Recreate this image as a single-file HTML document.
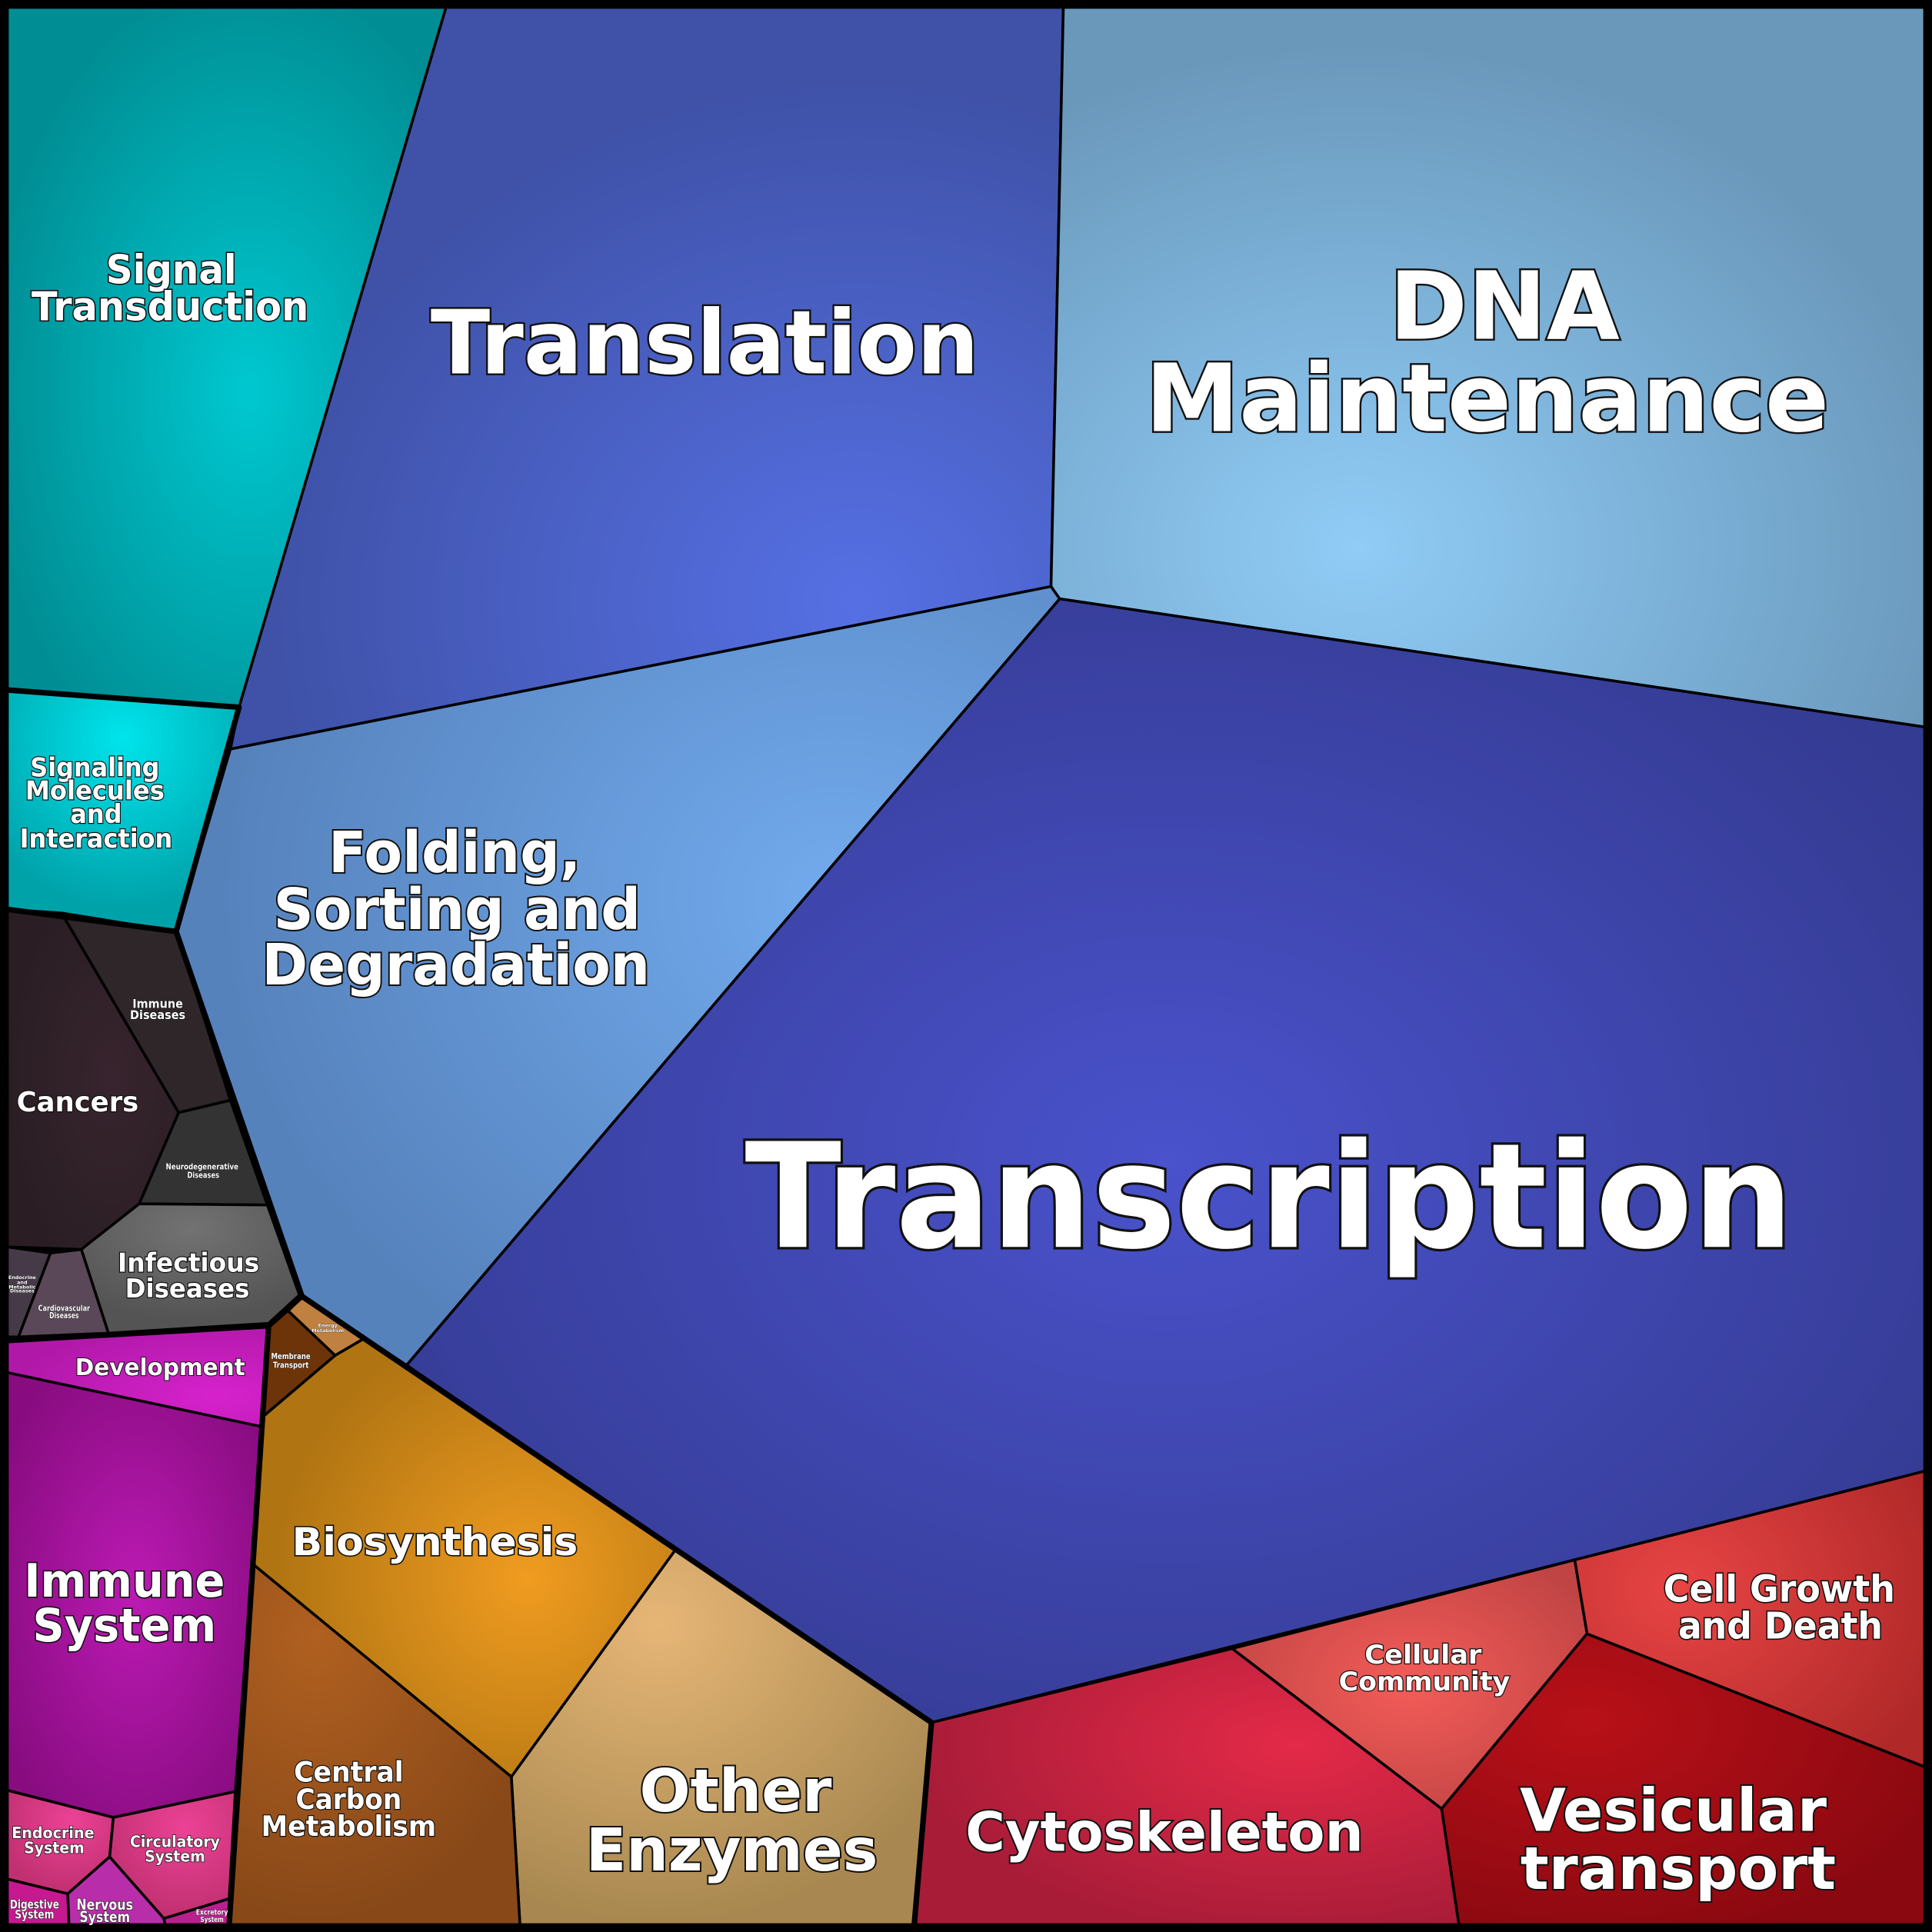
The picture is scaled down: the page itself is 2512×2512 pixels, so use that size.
<!DOCTYPE html>
<html><head><meta charset="utf-8">
<style>
html,body{margin:0;padding:0;background:#000;}
svg{display:block}
text{font-family:"DejaVu Sans","Liberation Sans",sans-serif;font-weight:bold;fill:#fff;stroke:#111;paint-order:stroke;text-anchor:middle}
</style></head>
<body>
<svg width="2512" height="2512" viewBox="0 0 1568 1568" xmlns="http://www.w3.org/2000/svg">
<defs>
<radialGradient id="gST" cx="0.55" cy="0.55" r="0.6"><stop offset="0" stop-color="#00c8d0"/><stop offset="1" stop-color="#008e94"/></radialGradient>
<radialGradient id="gTL" cx="0.75" cy="0.8" r="0.7"><stop offset="0" stop-color="#5670e4"/><stop offset="1" stop-color="#3f52a8"/></radialGradient>
<radialGradient id="gDNA" cx="0.35" cy="0.75" r="0.7"><stop offset="0" stop-color="#90ccf6"/><stop offset="1" stop-color="#6a98bb"/></radialGradient>
<radialGradient id="gSM" cx="0.5" cy="0.2" r="0.7"><stop offset="0" stop-color="#00e4ec"/><stop offset="1" stop-color="#00a2aa"/></radialGradient>
<radialGradient id="gFO" cx="0.75" cy="0.4" r="0.7"><stop offset="0" stop-color="#72abee"/><stop offset="1" stop-color="#5682bc"/></radialGradient>
<radialGradient id="gTR" cx="0.5" cy="0.5" r="0.6"><stop offset="0" stop-color="#4a52cc"/><stop offset="1" stop-color="#343b92"/></radialGradient>
<radialGradient id="gCG" cx="0.3" cy="0.4" r="0.8"><stop offset="0" stop-color="#e84444"/><stop offset="1" stop-color="#b02828"/></radialGradient>
<radialGradient id="gCC" cx="0.5" cy="0.5" r="0.6"><stop offset="0" stop-color="#f45c58"/><stop offset="1" stop-color="#c04444"/></radialGradient>
<radialGradient id="gVT" cx="0.3" cy="0.3" r="0.8"><stop offset="0" stop-color="#b81018"/><stop offset="1" stop-color="#8a0810"/></radialGradient>
<radialGradient id="gCY" cx="0.7" cy="0.35" r="0.7"><stop offset="0" stop-color="#e42a48"/><stop offset="1" stop-color="#a81c38"/></radialGradient>
<radialGradient id="gOE" cx="0.35" cy="0.2" r="0.8"><stop offset="0" stop-color="#e6b676"/><stop offset="1" stop-color="#a88850"/></radialGradient>
<radialGradient id="gCM" cx="0.3" cy="0.2" r="0.8"><stop offset="0" stop-color="#b06020"/><stop offset="1" stop-color="#884818"/></radialGradient>
<radialGradient id="gBS" cx="0.65" cy="0.55" r="0.6"><stop offset="0" stop-color="#f09c20"/><stop offset="1" stop-color="#b07412"/></radialGradient>
<radialGradient id="gCA" cx="0.6" cy="0.5" r="0.6"><stop offset="0" stop-color="#38242e"/><stop offset="1" stop-color="#2a1e24"/></radialGradient>
<radialGradient id="gIF" cx="0.5" cy="0.2" r="0.7"><stop offset="0" stop-color="#727272"/><stop offset="1" stop-color="#545454"/></radialGradient>
<radialGradient id="gDV" cx="0.8" cy="0.7" r="0.8"><stop offset="0" stop-color="#d622cc"/><stop offset="1" stop-color="#b018a8"/></radialGradient>
<radialGradient id="gIS" cx="0.5" cy="0.5" r="0.6"><stop offset="0" stop-color="#bc1ab4"/><stop offset="1" stop-color="#880c80"/></radialGradient>
<radialGradient id="gES" cx="0.6" cy="0.3" r="0.7"><stop offset="0" stop-color="#ec4296"/><stop offset="1" stop-color="#c03070"/></radialGradient>
</defs>
<rect width="1568" height="1568" fill="#000"/>
<g stroke="#000" stroke-width="2.2" stroke-linejoin="round">
<polygon fill="url(#gST)" points="6,6 362,6 194,574 6,560"/>
<polygon fill="url(#gTL)" points="362,6 863,6 853,476 187,608 194,574"/>
<polygon fill="url(#gDNA)" points="863,6 1562,6 1562,590 860,486 853,476"/>
<polygon fill="url(#gSM)" points="6,560 194,574 143,756 6,738"/>
<polygon fill="url(#gFO)" points="187,608 853,476 860,486 330,1108 245,1052 143,756"/>
<polygon fill="url(#gTR)" points="860,486 1562,590 1562,1194 756,1398 330,1108"/>
<polygon fill="url(#gCG)" points="1562,1194 1562,1434 1288,1326 1278,1266"/>
<polygon fill="url(#gCC)" points="1278,1266 1288,1326 1170,1468 1000,1338"/>
<polygon fill="url(#gVT)" points="1288,1326 1562,1434 1562,1562 1184,1562 1170,1468"/>
<polygon fill="url(#gCY)" points="756,1398 1000,1338 1170,1468 1184,1562 742,1562"/>
<polygon fill="url(#gOE)" points="548,1258 756,1398 742,1562 422,1562 415,1442"/>
<polygon fill="url(#gCM)" points="206,1270 415,1442 422,1562 186,1562"/>
<polygon fill="url(#gBS)" points="296,1086 548,1258 415,1442 206,1270 213,1150 272,1100"/>
<polygon fill="#6c3408" points="218,1070 234,1064 272,1100 213,1150"/>
<polygon fill="#c08040" points="234,1064 245,1052 296,1086 272,1100"/>
<polygon fill="url(#gCA)" points="6,738 50,741 145,903 113,977 66,1014 6,1012"/>
<polygon fill="#2e2628" points="50,741 143,756 187,893 145,903"/>
<polygon fill="#333" points="145,903 187,893 217,978 113,977"/>
<polygon fill="url(#gIF)" points="113,977 217,978 243,1051 218,1074 88,1082 66,1014"/>
<polygon fill="#463a48" points="6,1012 41,1017 15,1085 6,1085"/>
<polygon fill="#5a4858" points="41,1017 66,1014 88,1082 15,1085"/>
<polygon fill="url(#gDV)" points="6,1088 218,1076 213,1158 6,1114"/>
<polygon fill="url(#gIS)" points="6,1114 213,1158 191,1454 92,1475 6,1453"/>
<polygon fill="url(#gES)" points="6,1453 92,1475 89,1507 55,1537 6,1525"/>
<polygon fill="url(#gES)" points="92,1475 191,1454 186,1541 133,1557 89,1507"/>
<polygon fill="#c81890" points="6,1525 55,1537 56,1562 6,1562"/>
<polygon fill="#b82eaa" points="55,1537 89,1507 133,1557 134,1562 56,1562"/>
<polygon fill="#b8208e" points="133,1557 186,1541 186,1562 134,1562"/>
</g>
<g stroke="#000" stroke-width="4.5" fill="none" stroke-linejoin="round">
<polyline points="6,560 194,574 143,756 6,738"/>
<polyline points="143,756 245,1052 756,1398 742,1562"/>
<polyline points="6,1088 218,1076 245,1052"/>
<polyline points="218,1076 186,1562"/>
<rect x="3" y="3" width="1562" height="1562" stroke-width="7"/>
</g>
<g>
<text font-size="32" stroke-width="2" x="139" y="230" textLength="106" lengthAdjust="spacingAndGlyphs">Signal</text>
<text font-size="32" stroke-width="2" x="138" y="260" textLength="225" lengthAdjust="spacingAndGlyphs">Transduction</text>
<text font-size="72" stroke-width="3" x="572" y="303" textLength="445" lengthAdjust="spacingAndGlyphs">Translation</text>
<text font-size="76" stroke-width="3" x="1221" y="275" textLength="187" lengthAdjust="spacingAndGlyphs">DNA</text>
<text font-size="76" stroke-width="3" x="1207" y="350" textLength="555" lengthAdjust="spacingAndGlyphs">Maintenance</text>
<text font-size="21" stroke-width="1.5" x="77" y="630" textLength="105" lengthAdjust="spacingAndGlyphs">Signaling</text>
<text font-size="21" stroke-width="1.5" x="77" y="649" textLength="113" lengthAdjust="spacingAndGlyphs">Molecules</text>
<text font-size="21" stroke-width="1.5" x="78" y="668" textLength="42" lengthAdjust="spacingAndGlyphs">and</text>
<text font-size="21" stroke-width="1.5" x="78" y="688" textLength="124" lengthAdjust="spacingAndGlyphs">Interaction</text>
<text font-size="46" stroke-width="2.5" x="369" y="708" textLength="205" lengthAdjust="spacingAndGlyphs">Folding,</text>
<text font-size="46" stroke-width="2.5" x="371" y="754" textLength="298" lengthAdjust="spacingAndGlyphs">Sorting and</text>
<text font-size="46" stroke-width="2.5" x="370" y="799" textLength="315" lengthAdjust="spacingAndGlyphs">Degradation</text>
<text font-size="118" stroke-width="4" x="1030" y="1012" textLength="851" lengthAdjust="spacingAndGlyphs">Transcription</text>
<text font-size="22" stroke-width="1.5" x="63" y="902" textLength="99" lengthAdjust="spacingAndGlyphs">Cancers</text>
<text font-size="10" stroke-width="0.8" x="128" y="818" textLength="41" lengthAdjust="spacingAndGlyphs">Immune</text>
<text font-size="10" stroke-width="0.8" x="128" y="827" textLength="45" lengthAdjust="spacingAndGlyphs">Diseases</text>
<text font-size="6.5" stroke-width="0.5" x="164" y="949" textLength="59" lengthAdjust="spacingAndGlyphs">Neurodegenerative</text>
<text font-size="6.5" stroke-width="0.5" x="165" y="956" textLength="26" lengthAdjust="spacingAndGlyphs">Diseases</text>
<text font-size="21" stroke-width="1.5" x="153" y="1032" textLength="115" lengthAdjust="spacingAndGlyphs">Infectious</text>
<text font-size="21" stroke-width="1.5" x="152" y="1053" textLength="101" lengthAdjust="spacingAndGlyphs">Diseases</text>
<text font-size="4" stroke-width="0.3" x="18" y="1038">Endocrine</text>
<text font-size="4" stroke-width="0.3" x="18" y="1042">and</text>
<text font-size="4" stroke-width="0.3" x="18" y="1046">Metabolic</text>
<text font-size="4" stroke-width="0.3" x="18" y="1049">Diseases</text>
<text font-size="6.5" stroke-width="0.5" x="52" y="1064" textLength="42" lengthAdjust="spacingAndGlyphs">Cardiovascular</text>
<text font-size="6.5" stroke-width="0.5" x="52" y="1070" textLength="24" lengthAdjust="spacingAndGlyphs">Diseases</text>
<text font-size="19" stroke-width="1.3" x="130" y="1116" textLength="138" lengthAdjust="spacingAndGlyphs">Development</text>
<text font-size="6.5" stroke-width="0.5" x="236" y="1103" textLength="32" lengthAdjust="spacingAndGlyphs">Membrane</text>
<text font-size="6.5" stroke-width="0.5" x="236" y="1110" textLength="29" lengthAdjust="spacingAndGlyphs">Transport</text>
<text font-size="4" stroke-width="0.3" x="266" y="1077">Energy</text>
<text font-size="4" stroke-width="0.3" x="266" y="1081">Metabolism</text>
<text font-size="31" stroke-width="2" x="353" y="1262" textLength="232" lengthAdjust="spacingAndGlyphs">Biosynthesis</text>
<text font-size="37" stroke-width="2" x="101" y="1296" textLength="163" lengthAdjust="spacingAndGlyphs">Immune</text>
<text font-size="37" stroke-width="2" x="101" y="1332" textLength="149" lengthAdjust="spacingAndGlyphs">System</text>
<text font-size="23" stroke-width="1.5" x="283" y="1446" textLength="89" lengthAdjust="spacingAndGlyphs">Central</text>
<text font-size="23" stroke-width="1.5" x="283" y="1468" textLength="86" lengthAdjust="spacingAndGlyphs">Carbon</text>
<text font-size="23" stroke-width="1.5" x="283" y="1490" textLength="142" lengthAdjust="spacingAndGlyphs">Metabolism</text>
<text font-size="48" stroke-width="2.5" x="597" y="1470" textLength="156" lengthAdjust="spacingAndGlyphs">Other</text>
<text font-size="48" stroke-width="2.5" x="594" y="1518" textLength="237" lengthAdjust="spacingAndGlyphs">Enzymes</text>
<text font-size="44" stroke-width="2.5" x="945" y="1502" textLength="323" lengthAdjust="spacingAndGlyphs">Cytoskeleton</text>
<text font-size="21" stroke-width="1.5" x="1155" y="1350" textLength="95" lengthAdjust="spacingAndGlyphs">Cellular</text>
<text font-size="21" stroke-width="1.5" x="1156" y="1372" textLength="139" lengthAdjust="spacingAndGlyphs">Community</text>
<text font-size="30" stroke-width="2" x="1444" y="1300" textLength="188" lengthAdjust="spacingAndGlyphs">Cell Growth</text>
<text font-size="30" stroke-width="2" x="1445" y="1330" textLength="166" lengthAdjust="spacingAndGlyphs">and Death</text>
<text font-size="48" stroke-width="2.5" x="1358" y="1486" textLength="249" lengthAdjust="spacingAndGlyphs">Vesicular</text>
<text font-size="48" stroke-width="2.5" x="1362" y="1533" textLength="256" lengthAdjust="spacingAndGlyphs">transport</text>
<text font-size="13" stroke-width="1" x="43" y="1492" textLength="67" lengthAdjust="spacingAndGlyphs">Endocrine</text>
<text font-size="13" stroke-width="1" x="44" y="1504" textLength="49" lengthAdjust="spacingAndGlyphs">System</text>
<text font-size="13" stroke-width="1" x="142" y="1499" textLength="73" lengthAdjust="spacingAndGlyphs">Circulatory</text>
<text font-size="13" stroke-width="1" x="142" y="1511" textLength="49" lengthAdjust="spacingAndGlyphs">System</text>
<text font-size="10" stroke-width="0.7" x="28" y="1549" textLength="40" lengthAdjust="spacingAndGlyphs">Digestive</text>
<text font-size="10" stroke-width="0.7" x="28" y="1557" textLength="32" lengthAdjust="spacingAndGlyphs">System</text>
<text font-size="12" stroke-width="0.8" x="85" y="1550" textLength="46" lengthAdjust="spacingAndGlyphs">Nervous</text>
<text font-size="12" stroke-width="0.8" x="85" y="1560" textLength="41" lengthAdjust="spacingAndGlyphs">System</text>
<text font-size="6" stroke-width="0.4" x="172" y="1554" textLength="26" lengthAdjust="spacingAndGlyphs">Excretory</text>
<text font-size="6" stroke-width="0.4" x="172" y="1560" textLength="19" lengthAdjust="spacingAndGlyphs">System</text>
</g>
</svg>
</body></html>
